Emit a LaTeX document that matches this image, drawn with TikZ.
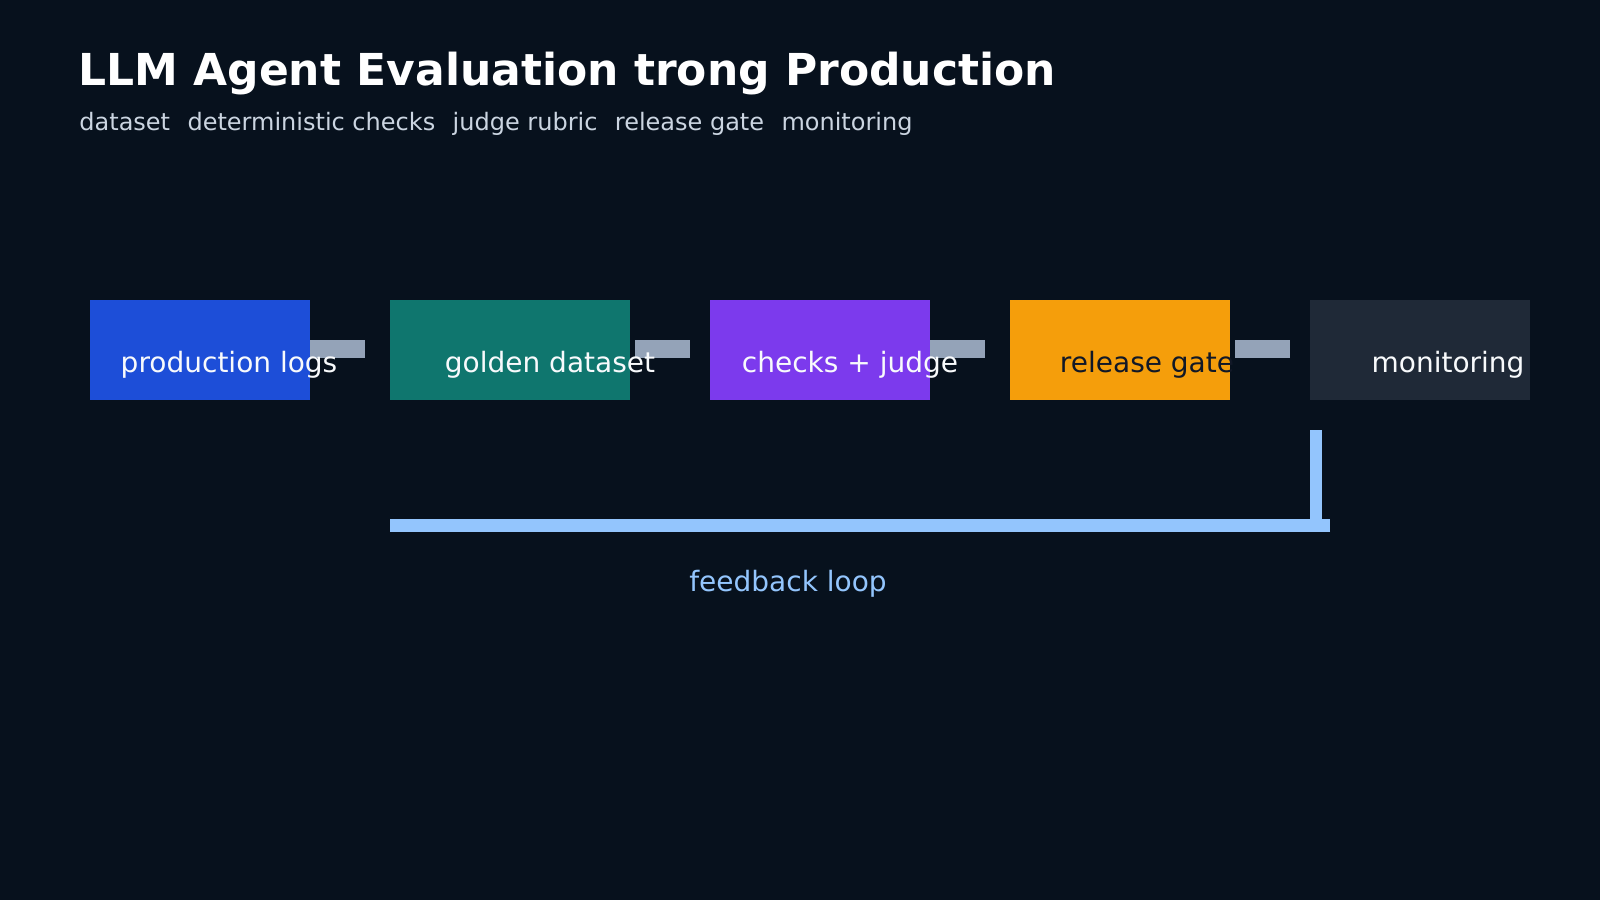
\documentclass[tikz,border=0pt]{standalone}
\usepackage{fontspec}
\setmainfont{DejaVu Sans}
\usetikzlibrary{positioning}

\definecolor{bgdark}{HTML}{07111D}
\definecolor{logblue}{HTML}{1D4ED8}
\definecolor{goldteal}{HTML}{0F766E}
\definecolor{checkviolet}{HTML}{7C3AED}
\definecolor{gateamber}{HTML}{F59E0B}
\definecolor{monslate}{HTML}{1F2937}
\definecolor{stubgray}{HTML}{94A3B8}
\definecolor{loopblue}{HTML}{93C5FD}
\definecolor{subgray}{HTML}{CBD5E1}
\definecolor{textlight}{HTML}{F8FAFC}
\definecolor{textdark}{HTML}{111827}

\newcommand{\wordgap}{\hspace{8.7pt}}

\begin{document}
\begin{tikzpicture}[
    x=0.5pt, y=-0.5pt,
    font=\fontsize{14pt}{17pt}\selectfont,
    stage/.style={
        rectangle,
        minimum width=110pt,
        minimum height=50pt,
        inner sep=0pt,
        outer sep=0pt
    },
    stub/.style={draw=stubgray, line width=9pt},
    stagetext/.style={anchor=base, inner sep=0pt, text=textlight},
    feedback/.style={draw=loopblue, line width=6pt}
]

    \fill [bgdark] (0,0) rectangle (1600,900);
    \useasboundingbox (0,0) rectangle (1600,900);

    \node (title) [anchor=base west, inner sep=0pt, text=white, font=\bfseries\fontsize{22pt}{26pt}\selectfont] at (78,85) {LLM Agent Evaluation trong Production};
    \node (subtitle) [anchor=base west, inner sep=0pt, text=subgray, font=\fontsize{12pt}{14pt}\selectfont] at (79,130) {dataset\wordgap deterministic checks\wordgap judge rubric\wordgap release gate\wordgap monitoring};

    \node (logs) [stage, fill=logblue, anchor=north west] at (90,300) {};
    \node (golden) [stage, fill=goldteal, minimum width=120pt, right=40pt of logs] {};
    \node (checks) [stage, fill=checkviolet, right=40pt of golden] {};
    \node (gate) [stage, fill=gateamber, right=40pt of checks] {};
    \node (monitor) [stage, fill=monslate, right=40pt of gate] {};

    \foreach \a/\gap in {logs/0, golden/2.5, checks/0, gate/2.5} {
        \coordinate (\a-out) at ([xshift=\gap pt, yshift=0.5pt]\a.east);
        \coordinate (\a-stub) at ([xshift=27.5pt]\a-out);
        \draw [stub] (\a-out) -- (\a-stub);
    }

    \node (logs-text) [stagetext] at ([xshift=14.5pt, yshift=-11pt]logs.center) {production logs};
    \node (golden-text) [stagetext] at ([xshift=20pt, yshift=-11pt]golden.center) {golden dataset};
    \node (checks-text) [stagetext] at ([xshift=15pt, yshift=-11pt]checks.center) {checks + judge};
    \node (gate-text) [stagetext, text=textdark] at ([xshift=13.5pt, yshift=-11pt]gate.center) {release gate};
    \node (monitor-text) [stagetext] at ([xshift=14pt, yshift=-11pt]monitor.center) {monitoring};

    % feedback loop back to the dataset
    \coordinate (fbtop) at ([xshift=3pt, yshift=-15pt]monitor.south west);
    \coordinate (fbcorner) at ([yshift=-47.5pt]fbtop);
    \coordinate (fbright) at ([xshift=7pt]fbcorner);
    \coordinate (fbleft) at (golden.west |- fbcorner);

    \draw [feedback] (fbtop) -- (fbcorner);
    \draw [feedback, line width=6.5pt] (fbright) -- (fbleft);

    \node (fbtext) [anchor=base, inner sep=0pt, text=loopblue] at (788,591) {feedback loop};

\end{tikzpicture}
\end{document}
